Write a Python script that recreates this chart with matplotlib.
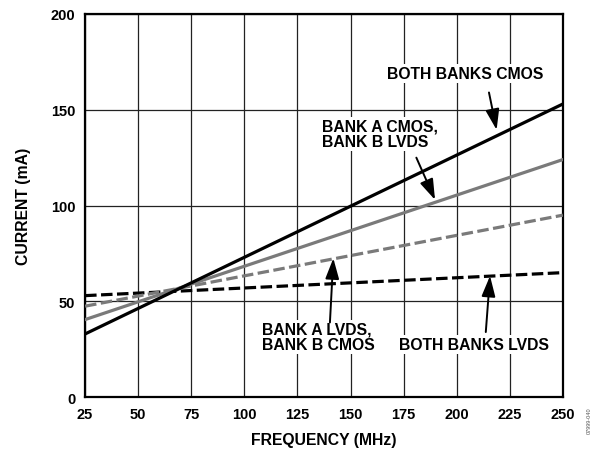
import matplotlib
matplotlib.use("Agg")
import matplotlib.pyplot as plt

plt.rcParams['font.family'] = ['Liberation Sans', 'DejaVu Sans']

# Data (endpoints)
freq = [25, 250]
both_cmos = [33, 153]
a_cmos_b_lvds = [40.5, 124]
a_lvds_b_cmos = [47.5, 95]
both_lvds = [53, 65]

xticks = [25, 50, 75, 100, 125, 150, 175, 200, 225, 250]
yticks = [0, 50, 100, 150, 200]

fig = plt.figure(figsize=(5.95, 4.52), dpi=100)
ax = fig.add_axes([0.143, 0.119, 0.803, 0.848])

gray = '#7a7a7a'
lw = 2.3
ax.plot(freq, both_lvds, color='black', lw=lw, dashes=(3.6, 1.4), zorder=3)
ax.plot(freq, a_lvds_b_cmos, color=gray, lw=lw, dashes=(3.6, 1.4), zorder=3)
ax.plot(freq, a_cmos_b_lvds, color=gray, lw=lw, zorder=3)
ax.plot(freq, both_cmos, color='black', lw=lw, zorder=4)

ax.set_xlim(25, 250)
ax.set_ylim(0, 200)
ax.set_xticks(xticks)
ax.set_yticks(yticks)
ax.grid(True, color='#222222', lw=0.9)
ax.set_axisbelow(True)
ax.tick_params(length=0, pad=7, labelsize=10.5)
for lab in ax.get_xticklabels() + ax.get_yticklabels():
    lab.set_fontweight('bold')
for s in ax.spines.values():
    s.set_linewidth(1.6)
    s.set_color('black')

ax.set_xlabel('FREQUENCY (MHz)', fontsize=11.3, fontweight='bold', labelpad=8)
ax.set_ylabel('CURRENT (mA)', fontsize=11.3, fontweight='bold', labelpad=14)

bbox = dict(facecolor='white', edgecolor='none', pad=1.5)
arrow = dict(arrowstyle='-|>,head_length=0.9,head_width=0.3', color='black',
             lw=1.4, mutation_scale=14, shrinkA=0, shrinkB=0)
tk = dict(fontsize=11.3, fontweight='bold', bbox=bbox, zorder=5, linespacing=1.0)

ax.text(204, 168.7, 'BOTH BANKS CMOS', ha='center', va='center', **tk)
ax.annotate('', xy=(218.8, 139.5), xytext=(215.2, 159), arrowprops=arrow, zorder=6)

ax.text(136.4, 137.5, 'BANK A CMOS,\nBANK B LVDS', ha='left', va='center', **tk)
ax.annotate('', xy=(189.8, 103.0), xytext=(181, 125), arrowprops=arrow, zorder=6)

ax.text(108.3, 31.5, 'BANK A LVDS,\nBANK B CMOS', ha='left', va='center', **tk)
ax.annotate('', xy=(141.9, 72.5), xytext=(140.3, 39), arrowprops=arrow, zorder=6)

ax.text(208.1, 27.3, 'BOTH BANKS LVDS', ha='center', va='center', **tk)
ax.annotate('', xy=(215.7, 63.3), xytext=(213.7, 34), arrowprops=arrow, zorder=6)

fig.text(0.99, 0.04, '07999-040', rotation=90, fontsize=4, color='#555555',
         ha='center', va='bottom')

fig.savefig('out.png', dpi=100)
